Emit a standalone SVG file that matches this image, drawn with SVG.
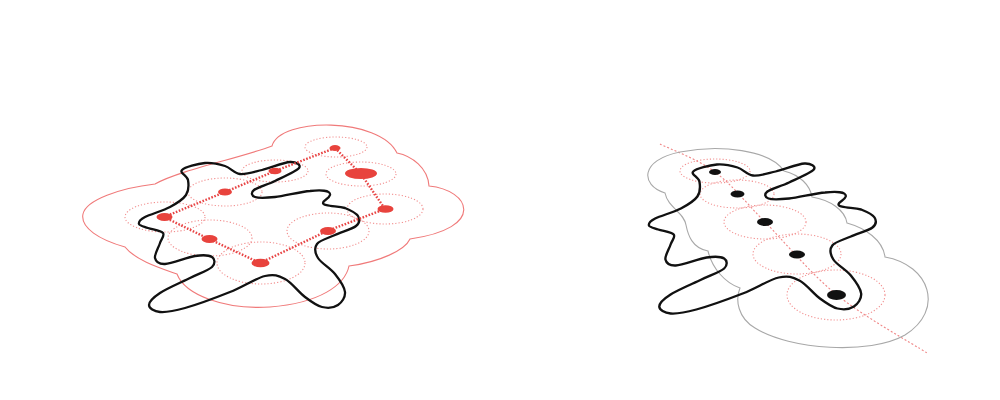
<svg xmlns="http://www.w3.org/2000/svg" width="1000" height="400" viewBox="0 0 1000 400">
<style>
.cloud{fill:none;stroke:#f07a7a;stroke-width:1.1}
.gcloud{fill:none;stroke:#a8a8a8;stroke-width:1.1}
.blob{fill:none;stroke:#111;stroke-width:2.3;stroke-linejoin:round}
.ring{fill:none;stroke:#f29090;stroke-width:1.1;stroke-dasharray:1.2 2}
.rdot{fill:#e8433d}
.kdot{fill:#111}
.link{fill:none;stroke:#e84545;stroke-width:2.4;stroke-dasharray:1.6 1.6}
.axis{fill:none;stroke:#ef8585;stroke-width:1.1;stroke-dasharray:2 2}
</style>
<defs>
<path id="blobPath" class="blob" d="M182,170 C184.8,167.2 197.8,163.7 205,163 C212.2,162.3 219.2,164.2 225,166 C230.8,167.8 233.8,173.3 240,174 C246.2,174.7 253.7,172 262,170 C270.3,168 283.8,162.3 290,162 C296.2,161.7 301.5,164.8 299,168 C296.5,171.2 282.5,177.3 275,181 C267.5,184.7 257.3,187.3 254,190 C250.7,192.7 251.5,195.8 255,197 C258.5,198.2 265.8,198 275,197 C284.2,196 300.8,191.7 310,191 C320,190 331,190 330,195 C329,199 323,200 323,203 C323,206 335,206 345,208 C350.5,210.3 356.2,213 358,216 C359.8,219 359.8,222.8 356,226 C352.2,229.2 341.5,232 335,235 C328.5,238 319.8,240.2 317,244 C314.2,247.8 315,253 318,258 C321,263 330.5,268.3 335,274 C339.5,279.7 344.5,286.8 345,292 C345.5,297.2 341.8,302.5 338,305 C334.2,307.5 327.5,308.3 322,307 C316.5,305.7 311.2,301.7 305,297 C298.8,292.3 291.7,282.5 285,279 C278.3,275.5 274.2,273.8 265,276 C255.8,278.2 243.3,286.7 230,292 C216.7,297.3 196.7,304.7 185,308 C173.3,311.3 166,312.5 160,312 C154,311.5 149,308.2 149,305 C149,301.8 153.2,297.5 160,293 C166.8,288.5 181.3,282.3 190,278 C198.7,273.7 208.3,270.5 212,267 C215.7,263.5 214.8,258.8 212,257 C209.2,255.2 202.8,254.8 195,256 C187.2,257.2 171.7,263.7 165,264 C158.3,264.3 155.8,261.5 155,258 C154.2,254.5 158.7,247.2 160,243 C161.3,238.8 165,235.5 163,233 C161,230.5 152,229.5 148,228 C144,226.5 139.5,225.8 139,224 C138.5,222.2 139.8,219.8 145,217 C150.2,214.2 163.2,210.7 170,207 C176.8,203.3 183,199.5 186,195 C189,190.5 188.7,184.2 188,180 C187.3,175.8 179.2,172.8 182,170 Z"/>
</defs>

<!-- LEFT DIAGRAM -->
<g id="left-cloud">
<path class="cloud" d="M125,247 C100,240 80,228 83,214 C86,200 120,188 155,184 C180,170 240,158 272,146 C280,117 380,117 397,153 C412,156 428,168 429,186 C470,190 487,228 410,239 C405,250 380,262 349,266 C345,285 320,303 270,307 C225,310 185,295 177,274 C160,268 135,260 125,247 Z"/>
</g>

<g id="left-rings">
<ellipse class="ring" cx="336" cy="147" rx="31" ry="10"/>
<ellipse class="ring" cx="361" cy="174" rx="35" ry="12"/>
<ellipse class="ring" cx="275" cy="171" rx="33" ry="11"/>
<ellipse class="ring" cx="225" cy="192" rx="37" ry="14"/>
<ellipse class="ring" cx="165" cy="217" rx="40" ry="15"/>
<ellipse class="ring" cx="210" cy="238" rx="42" ry="18"/>
<ellipse class="ring" cx="261" cy="263" rx="44" ry="21"/>
<ellipse class="ring" cx="328" cy="231" rx="41" ry="18"/>
<ellipse class="ring" cx="385" cy="209" rx="38" ry="15"/>
</g>

<g id="left-shape"><use href="#blobPath"/></g>

<g id="connectors">
<path class="link" d="M164,217 L225,192 L275,171 L335,148"/>
<path class="link" d="M335,148 L361,174 L385,209"/>
<path class="link" d="M385,209 L327,231 L260,263"/>
<path class="link" d="M164,217 L209,239 L260,263"/>
<path class="axis" d="M660,144 C669.2,148.7 697.5,159 715,172 C732.5,185 744.7,201.5 765,222 C785.3,242.5 810,273.2 837,295 C864,316.8 912,343.3 927,353"/>
</g>

<g id="node-d1"><ellipse class="rdot" cx="335" cy="148" rx="5.5" ry="3"/></g>
<g id="node-d2"><ellipse class="rdot" cx="275" cy="171" rx="6.5" ry="3.3"/></g>
<g id="node-d3"><ellipse class="rdot" cx="361" cy="173.5" rx="16" ry="5.5"/></g>
<g id="node-d4"><ellipse class="rdot" cx="225" cy="192" rx="7" ry="3.5"/></g>
<g id="node-d5"><ellipse class="rdot" cx="385.5" cy="209" rx="8" ry="3.8"/></g>
<g id="node-d6"><ellipse class="rdot" cx="164.5" cy="217" rx="8" ry="4"/></g>
<g id="node-d7"><ellipse class="rdot" cx="328" cy="231" rx="8" ry="4"/></g>
<g id="node-d8"><ellipse class="rdot" cx="209.5" cy="239" rx="8" ry="4"/></g>
<g id="node-d9"><ellipse class="rdot" cx="260.5" cy="263" rx="9" ry="4.3"/></g>

<!-- RIGHT DIAGRAM -->
<g id="right-cloud">
<path class="gcloud" d="M665,193 C640,185 640,160 680,152 C720,144 770,150 784,171 C800,175 810,185 812,197 C830,200 845,210 847,223 C865,228 883,240 885,257 C930,265 945,310 905,335 C870,355 790,350 755,328 C738,318 735,300 740,288 C725,283 712,268 708,251 C692,248 688,235 686,225 C684,212 668,208 665,193 Z"/>
</g>

<g id="right-rings">
<ellipse class="ring" cx="715" cy="171" rx="35" ry="12"/>
<ellipse class="ring" cx="737" cy="194" rx="37" ry="14"/>
<ellipse class="ring" cx="765" cy="222" rx="41" ry="17"/>
<ellipse class="ring" cx="797" cy="254" rx="44" ry="20"/>
<ellipse class="ring" cx="836" cy="295" rx="49" ry="25"/>
</g>

<g id="right-shape"><use href="#blobPath" transform="matrix(1.03 0 0 1 505.8 1.5)"/></g>

<g id="node-b1"><ellipse class="kdot" cx="715" cy="172" rx="6" ry="3"/></g>
<g id="node-b2"><ellipse class="kdot" cx="737.5" cy="194" rx="7" ry="3.5"/></g>
<g id="node-b3"><ellipse class="kdot" cx="765" cy="222" rx="8" ry="4"/></g>
<g id="node-b4"><ellipse class="kdot" cx="797" cy="254.5" rx="8" ry="4"/></g>
<g id="node-b5"><ellipse class="kdot" cx="836.5" cy="295" rx="9.5" ry="5"/></g>
</svg>
